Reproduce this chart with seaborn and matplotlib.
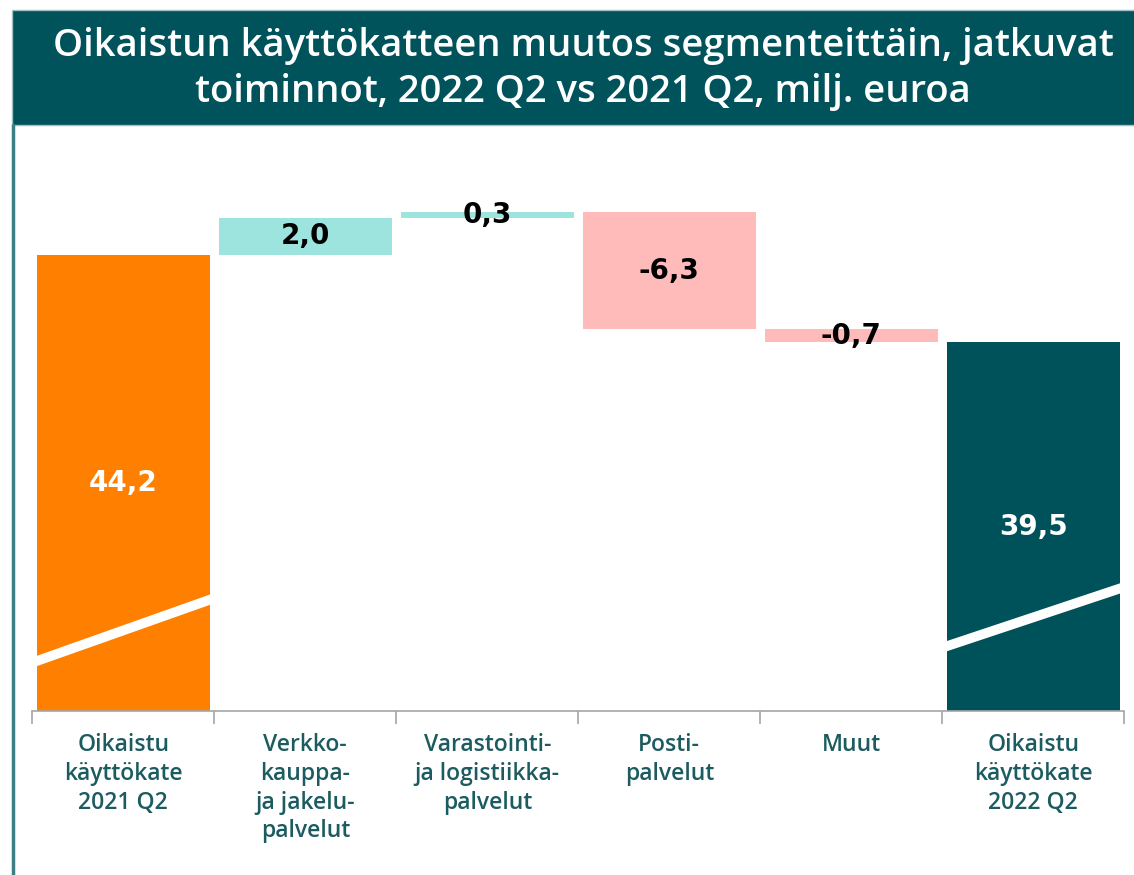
import matplotlib
matplotlib.use("Agg")
import matplotlib.pyplot as plt
import seaborn as sns
import pandas as pd
import numpy as np
from matplotlib.patches import Rectangle
from matplotlib.lines import Line2D

# ---- data ----
categories = ["Oikaistu\nkäyttökate\n2021 Q2",
              "Verkko-\nkauppa-\nja jakelu-\npalvelut",
              "Varastointi-\nja logistiikka-\npalvelut",
              "Posti-\npalvelut",
              "Muut",
              "Oikaistu\nkäyttökate\n2022 Q2"]
start_value = 44.2
deltas = [2.0, 0.3, -6.3, -0.7]
end_value = 39.5
labels = ["44,2", "2,0", "0,3", "-6,3", "-0,7", "39,5"]

# waterfall geometry derived from the values
bottoms = [0.0]
heights = [start_value]
running = start_value
for d in deltas:
    lo = running + min(d, 0)
    bottoms.append(lo)
    heights.append(abs(d))
    running += d
bottoms.append(0.0)
heights.append(end_value)

c_orange = "#FF8000"
c_dark = "#00525A"
c_pos = "#9DE3DE"
c_neg = "#FFBABA"
colors = [c_orange] + [c_pos if d > 0 else c_neg for d in deltas] + [c_dark]

df = pd.DataFrame({"cat": categories, "height": heights, "bottom": bottoms})

fig = plt.figure(figsize=(11.34, 8.75), dpi=100)
sns.set_style("white")

ax = fig.add_axes([0.0285, 0.1874, 0.9629, 0.655])
sns.barplot(data=df, x="cat", y="height", order=categories,
            bottom=df["bottom"].values, width=0.95, saturation=1,
            color=c_dark, linewidth=0, ax=ax)
for patch, col in zip(ax.patches, colors):
    patch.set_facecolor(col)
    patch.set_edgecolor(col)

ymin, ymax = 19.66, 50.5
ax.set_ylim(ymin, ymax)
ax.set_xlim(-0.5, 5.5)

# axis-break marks on first and last bar
ax.plot([-0.49, 0.49], [22.3, 25.7], color="white", lw=7, solid_capstyle="butt", zorder=5)
ax.plot([4.51, 5.49], [23.1, 26.3], color="white", lw=7, solid_capstyle="butt", zorder=5)

# value labels
for i, (b, h, lab) in enumerate(zip(bottoms, heights, labels)):
    if i in (0, len(labels) - 1):
        y = (ymin + b + h) / 2
        col = "white"
    else:
        y = b + h / 2
        col = "black"
    ax.text(i, y, lab, ha="center", va="center", color=col,
            fontsize=20, fontweight="bold", family="DejaVu Sans", zorder=6)

# axes styling
for s in ["top", "right", "left"]:
    ax.spines[s].set_visible(False)
ax.spines["bottom"].set_color("#A6A6A6")
ax.spines["bottom"].set_linewidth(1.2)
ax.set_yticks([])
ax.set_xlabel("")
ax.set_ylabel("")
ax.set_xticks(np.arange(len(categories)))
ax.set_xticklabels(categories, color="#1C5B60", fontsize=16.5,
                   fontweight="semibold", family="Open Sans", linespacing=1.26)
ax.tick_params(axis="x", which="major", length=0, pad=16)
ax.set_xticks(np.arange(-0.5, len(categories)), minor=True)
ax.tick_params(axis="x", which="minor", bottom=True, length=9,
               color="#A6A6A6", width=1.2)

# title banner and frame
fig.patches.append(Rectangle((12 / 1134, 1 - 125 / 875), 1.0, 115 / 875,
                             transform=fig.transFigure, facecolor="#00535B",
                             edgecolor="#9FC0C2", linewidth=1.0, zorder=0))
fig.lines.append(Line2D([13 / 1134, 13 / 1134], [0, 1 - 125 / 875],
                        transform=fig.transFigure, color="#3C8086", lw=2.5))
fig.text(0.514, 1 - 69 / 875,
         "Oikaistun käyttökatteen muutos segmenteittäin, jatkuvat\ntoiminnot, 2022 Q2 vs 2021 Q2, milj. euroa",
         ha="center", va="center", color="white", fontsize=27.5,
         fontweight="semibold", family="Open Sans", linespacing=1.3)

fig.savefig("out.png", dpi=100)
